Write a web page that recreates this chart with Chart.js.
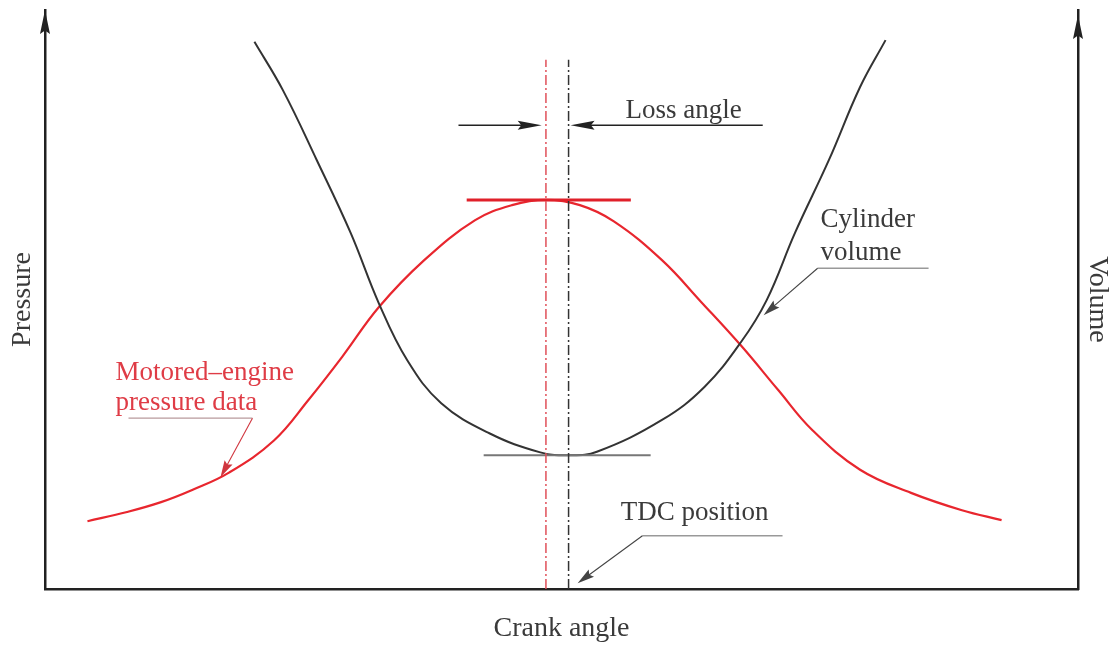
<!DOCTYPE html>
<html>
<head>
<meta charset="utf-8">
<script src="https://cdn.jsdelivr.net/npm/chart.js@4.4.1/dist/chart.umd.min.js"></script>
<style>
  html, body { margin: 0; padding: 0; background: #fff; }
</style>
</head>
<body>
<canvas id="crank-chart" width="1115" height="645"></canvas>
<script>
// crank angle in degrees, TDC = 0
const pressureAngle = [-170, -156, -144, -133, -120, -104, -92, -80, -67, -51, -33, -20, -8, 4, 16, 33, 47, 61, 74, 86, 103, 121, 139, 153];
// motored pressure, % of axis height
const pressureValue = [11.7, 13.3, 15.0, 17.1, 20.1, 25.7, 32.6, 40.1, 48.7, 56.8, 63.7, 66.3, 67.2, 66.3, 63.5, 56.8, 49.5, 42.0, 34.4, 27.5, 20.6, 16.6, 13.6, 11.9];

const volumeAngle = [-111, -101, -89, -77, -67, -57, -45, -28, -10, 0, 10, 33, 48, 61, 70, 80, 92, 103, 112];
// cylinder volume, % of axis height
const volumeValue = [94.5, 86.2, 74.1, 61.5, 49.3, 39.5, 32.1, 26.9, 23.6, 23.1, 23.7, 29.2, 34.9, 42.7, 49.9, 61.5, 74.1, 86.7, 94.8];

// reference marks
const lossAngle = -8;      // where the pressure peaks
const tdcAngle = 0;        // true top dead centre
const markerTop = 91.4;    // height of the two vertical marker lines
const peakTangentX = [-36, 22];
const minTangentX = [-30, 29];

// axis titles and notes
const xTitle = "Crank angle";
const yTitle = "Pressure";
const y1Title = "Volume";
const lossLabel = "Loss angle";
const tdcLabel = "TDC position";
const volumeLabel = ["Cylinder", "volume"];
const pressureLabel = ["Motored\u2013engine", "pressure data"];

const toPoints = (xs, ys) => xs.map((x, i) => ({ x: x, y: ys[i] }));
const peakP = Math.max(...pressureValue);
const minV = Math.min(...volumeValue);

const serif = "'Liberation Serif', 'DejaVu Serif', serif";

// arrows, leader lines and text notes drawn on top of the chart
const notesPlugin = {
  id: "notes",
  afterDraw(chart) {
    const { ctx, chartArea, scales } = chart;
    const px = v => scales.x.getPixelForValue(v);
    const py = v => scales.y.getPixelForValue(v);

    function arrow(x0, y0, x1, y1, color, width, len, half) {
      const a = Math.atan2(y1 - y0, x1 - x0);
      ctx.save();
      ctx.strokeStyle = color;
      ctx.fillStyle = color;
      ctx.lineWidth = width;
      ctx.beginPath();
      ctx.moveTo(x0, y0);
      ctx.lineTo(x1 - Math.cos(a) * len * 0.6, y1 - Math.sin(a) * len * 0.6);
      ctx.stroke();
      ctx.beginPath();
      ctx.moveTo(x1, y1);
      ctx.lineTo(x1 - Math.cos(a) * len - Math.sin(a) * half, y1 - Math.sin(a) * len + Math.cos(a) * half);
      ctx.lineTo(x1 - Math.cos(a) * len * 0.85, y1 - Math.sin(a) * len * 0.85);
      ctx.lineTo(x1 - Math.cos(a) * len + Math.sin(a) * half, y1 - Math.sin(a) * len - Math.cos(a) * half);
      ctx.closePath();
      ctx.fill();
      ctx.restore();
    }

    function line(x0, y0, x1, y1, color, width) {
      ctx.save();
      ctx.strokeStyle = color;
      ctx.lineWidth = width;
      ctx.beginPath();
      ctx.moveTo(x0, y0);
      ctx.lineTo(x1, y1);
      ctx.stroke();
      ctx.restore();
    }

    // axis arrow heads
    const b = chartArea.bottom;
    arrow(chartArea.left, b, chartArea.left, chartArea.top, "#222", 0.1, 24, 5);
    arrow(chartArea.right, b, chartArea.right, chartArea.top + 5, "#222", 0.1, 24, 5);

    ctx.save();
    ctx.font = "27px " + serif;
    ctx.textAlign = "left";
    ctx.textBaseline = "alphabetic";

    // loss angle
    const ay = py(80.1);
    arrow(px(-38.9), ay, px(lossAngle - 1.5), ay, "#222", 1.6, 24, 4.5);
    arrow(px(68.6), ay, px(tdcAngle + 0.7), ay, "#222", 1.6, 24, 4.5);
    ctx.fillStyle = "#3a3a3a";
    ctx.fillText(lossLabel, px(20.1), py(81.3));

    // TDC position
    ctx.fillText(tdcLabel, px(18.4), py(11.9));
    line(px(26.1), py(9.2), px(75.6), py(9.2), "#999", 1.3);
    arrow(px(26.1), py(9.2), px(3.2), py(1.0), "#444", 1.1, 17, 4.5);

    // cylinder volume
    ctx.fillText(volumeLabel[0], px(89.0), py(62.5));
    ctx.fillText(volumeLabel[1], px(89.0), py(56.8));
    line(px(88.0), py(55.4), px(127.2), py(55.4), "#999", 1.3);
    arrow(px(88.0), py(55.4), px(68.9), py(47.3), "#444", 1.1, 17, 4.5);

    // motored pressure
    ctx.fillStyle = "#df3c46";
    ctx.fillText(pressureLabel[0], px(-160.1), py(36.1));
    ctx.fillText(pressureLabel[1], px(-160.1), py(30.9));
    line(px(-155.5), py(29.5), px(-111.7), py(29.5), "#b89a9c", 1.3);
    arrow(px(-111.7), py(29.5), px(-123.0), py(19.3), "#d0353e", 1.1, 17, 4.5);
    ctx.restore();
  }
};

document.addEventListener("DOMContentLoaded", function () {
  const ctx = document.getElementById("crank-chart").getContext("2d");
  new Chart(ctx, {
    type: "line",
    data: {
      datasets: [
        {
          label: "TDC",
          data: [{ x: tdcAngle, y: 0 }, { x: tdcAngle, y: markerTop }],
          borderColor: "#333",
          borderWidth: 1.5,
          borderDash: [10, 3, 2, 3],
          pointRadius: 0,
        },
        {
          label: "Pressure peak",
          data: [{ x: lossAngle, y: 0 }, { x: lossAngle, y: markerTop }],
          borderColor: "#e0505a",
          borderWidth: 1.5,
          borderDash: [10, 3, 2, 3],
          pointRadius: 0,
        },
        {
          label: "Minimum volume",
          data: [{ x: minTangentX[0], y: minV }, { x: minTangentX[1], y: minV }],
          borderColor: "#777",
          borderWidth: 2,
          pointRadius: 0,
          yAxisID: "y1",
        },
        {
          label: "Cylinder volume",
          data: toPoints(volumeAngle, volumeValue),
          borderColor: "#333",
          borderWidth: 2,
          pointRadius: 0,
          tension: 0.4,
          yAxisID: "y1",
        },
        {
          label: "Peak pressure",
          data: [{ x: peakTangentX[0], y: peakP }, { x: peakTangentX[1], y: peakP }],
          borderColor: "#e0202a",
          borderWidth: 3,
          pointRadius: 0,
        },
        {
          label: "Motored-engine pressure",
          data: toPoints(pressureAngle, pressureValue),
          borderColor: "#e8262e",
          borderWidth: 2.2,
          pointRadius: 0,
          tension: 0.4,
        },
      ],
    },
    options: {
      responsive: false,
      animation: false,
      layout: { padding: { left: 0, right: 0, top: 10, bottom: 0 } },
      plugins: {
        legend: { display: false },
        tooltip: { enabled: false },
      },
      scales: {
        x: {
          type: "linear",
          min: -185,
          max: 180,
          grid: { display: false, drawTicks: false },
          border: { display: true, color: "#222", width: 2.5 },
          ticks: { display: false },
          title: {
            display: true,
            text: xTitle,
            color: "#3a3a3a",
            font: { family: serif, size: 28 },
            padding: { top: 0, bottom: 0 },
          },
          afterFit: s => { s.height = 56; },
        },
        y: {
          min: 0,
          max: 100,
          grid: { display: false, drawTicks: false },
          border: { display: true, color: "#222", width: 2.5 },
          ticks: { display: false },
          title: {
            display: true,
            text: yTitle,
            color: "#3a3a3a",
            font: { family: serif, size: 28 },
            padding: { top: 6, bottom: 0 },
          },
          afterFit: s => { s.width = 45; },
        },
        y1: {
          position: "right",
          min: 0,
          max: 100,
          grid: { display: false, drawTicks: false },
          border: { display: true, color: "#222", width: 2.5 },
          ticks: { display: false },
          title: {
            display: true,
            text: y1Title,
            color: "#3a3a3a",
            font: { family: serif, size: 28 },
            padding: { top: 1, bottom: 0 },
          },
          afterFit: s => { s.width = 37; },
        },
      },
    },
    plugins: [notesPlugin],
  });
});
</script>
</body>
</html>
